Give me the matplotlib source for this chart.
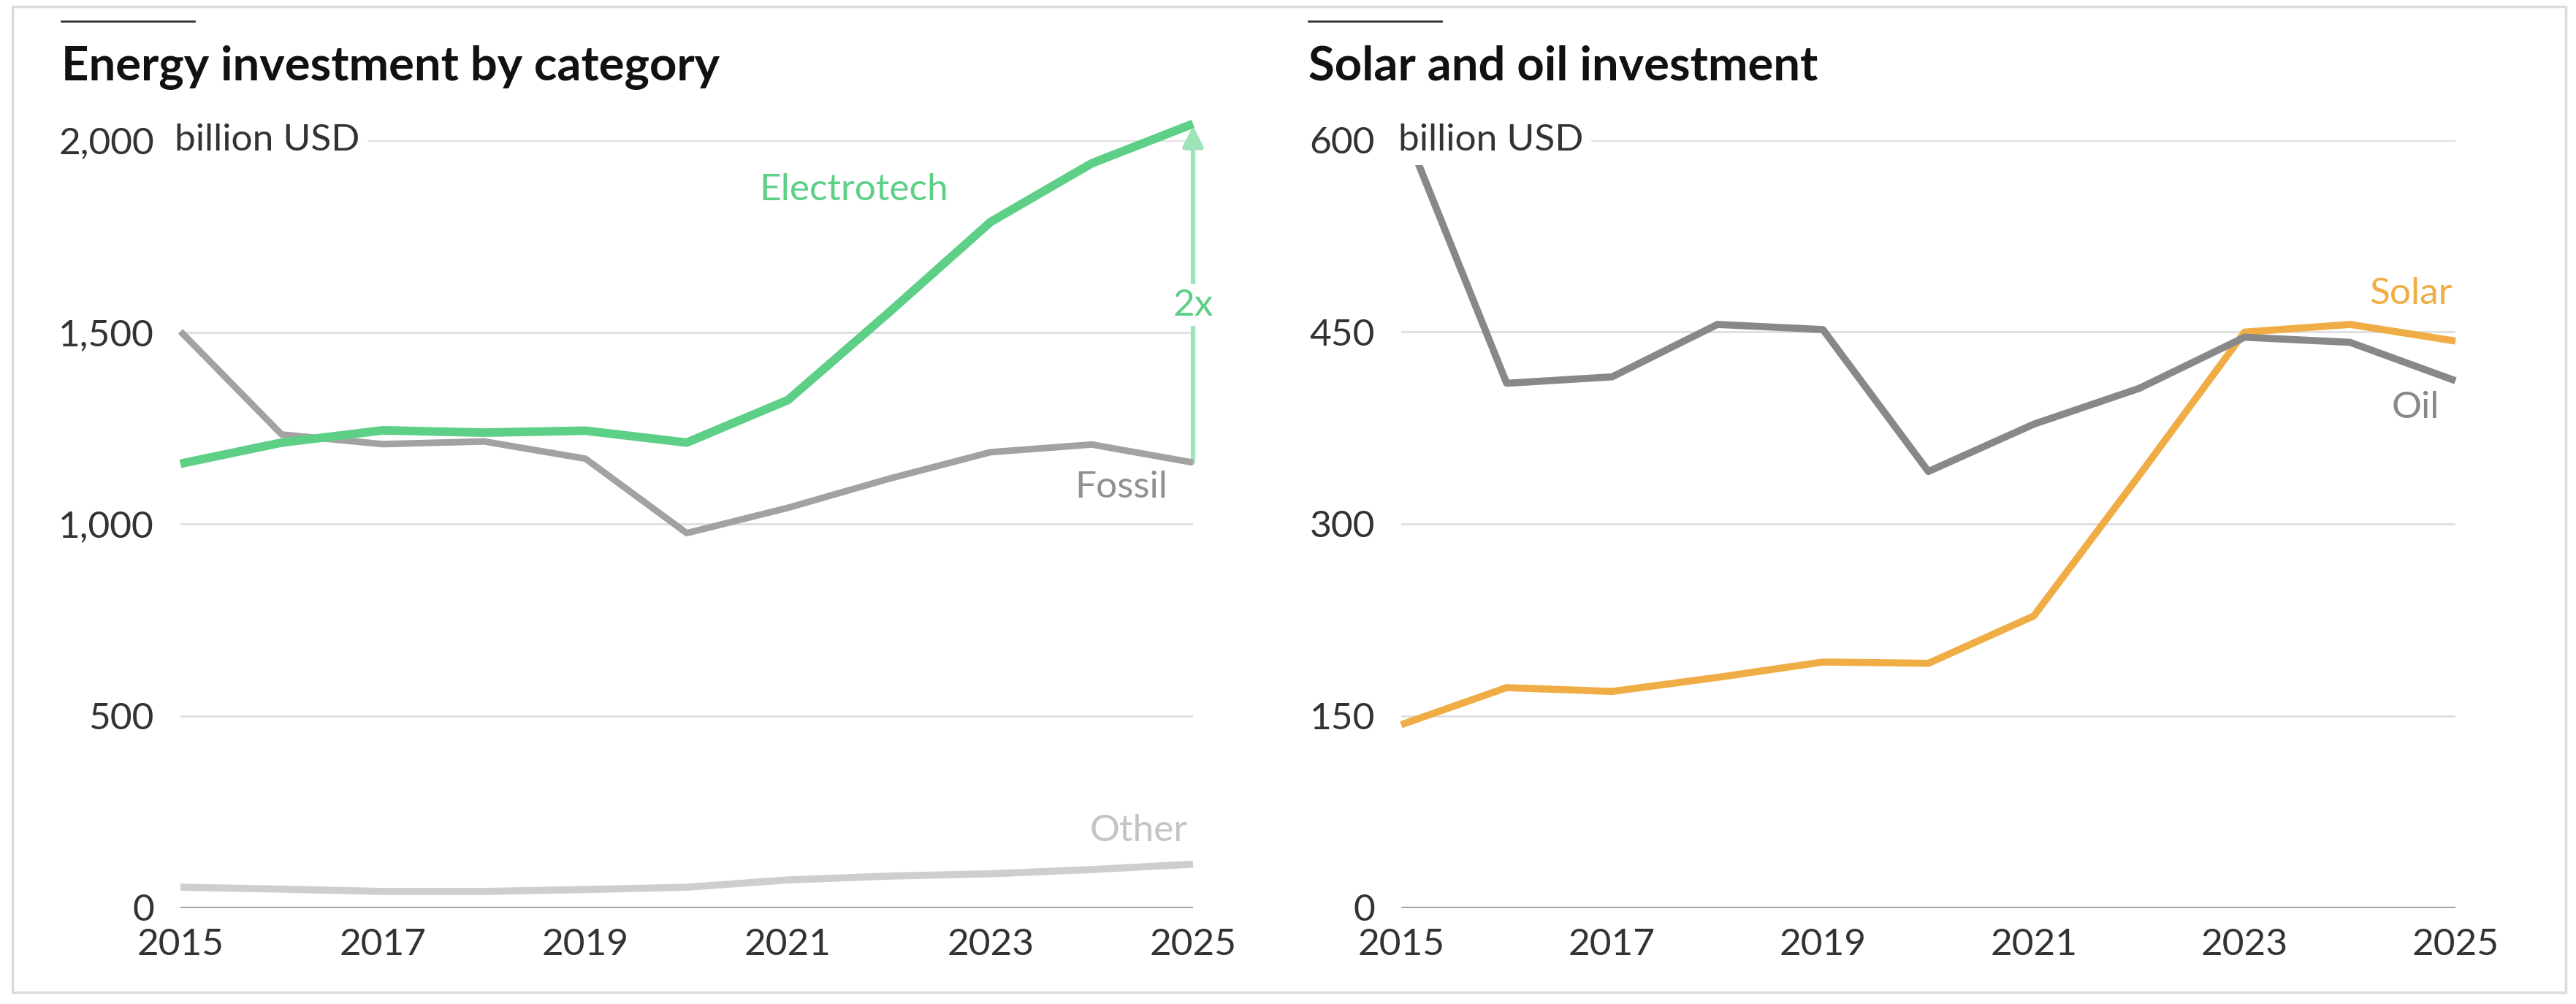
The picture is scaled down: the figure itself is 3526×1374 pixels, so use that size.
import matplotlib
matplotlib.use("Agg")
import matplotlib.pyplot as plt
from matplotlib.patches import Rectangle
from matplotlib.lines import Line2D

plt.rcParams['font.family'] = ['Lato', 'DejaVu Sans']

# data
years = [2015, 2016, 2017, 2018, 2019, 2020, 2021, 2022, 2023, 2024, 2025]
electrotech = [1157, 1212, 1244, 1238, 1243, 1212, 1323, 1552, 1787, 1940, 2043]
fossil = [1502, 1233, 1208, 1215, 1170, 976, 1042, 1118, 1187, 1207, 1160]
other = [53, 48, 42, 42, 47, 53, 72, 82, 88, 99, 113]

oil = [615, 410, 415, 456, 452, 341, 378, 406, 446, 442, 412]
solar = [143, 172, 169, 180, 192, 191, 228, 338, 450, 456, 443]

left_ticks = [0, 500, 1000, 1500, 2000]
left_ticklabels = ['0', '500', '1,000', '1,500', '2,000']
right_ticks = [0, 150, 300, 450, 600]
right_ticklabels = ['0', '150', '300', '450', '600']
xticks = [2015, 2017, 2019, 2021, 2023, 2025]

GREEN = '#5dcf86'
GREEN_LIGHT = '#9fe3b9'
FOSSIL = '#a2a2a2'
OTHER = '#cecece'
OIL = '#888888'
SOLAR = '#f0ad45'
TXT = '#333333'
FS = 37

W, H = 3526, 1374
fig = plt.figure(figsize=(W / 100, H / 100), dpi=100)

# card frame
fig.patches.append(Rectangle((17 / W, 1 - 1358 / H), (3512 - 17) / W, (1358 - 9) / H,
                             transform=fig.transFigure, fill=False,
                             edgecolor='#dcdcdc', linewidth=2.5))

ax1 = fig.add_axes([247 / W, 1 - 1242 / H, (1633 - 247) / W, (1242 - 192) / H])
ax2 = fig.add_axes([1918 / W, 1 - 1242 / H, (3361 - 1918) / W, (1242 - 192) / H])


def style(ax, ticks, labels, top):
    ax.set_xlim(2015, 2025)
    ax.set_ylim(0, top)
    for s in ax.spines.values():
        s.set_visible(False)
    ax.set_yticks(ticks)
    ax.set_yticklabels(labels)
    ax.set_xticks(xticks)
    ax.tick_params(axis='both', length=0, labelsize=FS, labelcolor=TXT)
    ax.tick_params(axis='y', pad=26)
    ax.tick_params(axis='x', pad=20)
    for t in ticks[1:]:
        ax.axhline(t, color='#dedede', linewidth=2, zorder=1)
    ax.axhline(0, color='#5a5a5a', linewidth=2.2, zorder=1)


style(ax1, left_ticks, left_ticklabels, 2000)
style(ax2, right_ticks, right_ticklabels, 600)

# left panel
ax1.plot(years, other, color=OTHER, linewidth=7, solid_capstyle='butt', zorder=3, clip_on=False)
ax1.plot(years, fossil, color=FOSSIL, linewidth=6.5, solid_capstyle='butt', zorder=3, clip_on=False)
ax1.plot(years, electrotech, color=GREEN, linewidth=8.5, solid_capstyle='butt', zorder=4, clip_on=False)

ax1.annotate('', xy=(2025, electrotech[-1] - 5), xytext=(2025, fossil[-1]),
             annotation_clip=False,
             arrowprops=dict(arrowstyle='-|>', color=GREEN_LIGHT, lw=4.5,
                             mutation_scale=42, shrinkA=0, shrinkB=0), zorder=2)
ax1.text(2025, 1570, '2x', color=GREEN, fontsize=FS, ha='center', va='center',
         bbox=dict(facecolor='white', edgecolor='none', pad=4), zorder=3)
ax1.text(2021.65, 1870, 'Electrotech', color=GREEN, fontsize=FS, ha='center', va='center')
ax1.text(2024.75, 1095, 'Fossil', color='#909090', fontsize=FS, ha='right', va='center')
ax1.text(2024.95, 200, 'Other', color='#c4c4c4', fontsize=FS, ha='right', va='center')

ax1.text(-0.006, 2000, 'billion USD', transform=ax1.get_yaxis_transform(), color=TXT,
         fontsize=FS, ha='left', va='center',
         bbox=dict(facecolor='white', edgecolor='none', pad=8), zorder=5)

# right panel
ax2.plot(years, solar, color=SOLAR, linewidth=7, solid_capstyle='butt', zorder=3, clip_on=False)
ax2.plot(years, oil, color=OIL, linewidth=7, solid_capstyle='butt', zorder=4, clip_on=False)
ax2.text(2024.97, 480, 'Solar', color=SOLAR, fontsize=FS, ha='right', va='center')
ax2.text(2024.85, 391, 'Oil', color=OIL, fontsize=FS, ha='right', va='center')
ax2.text(-0.003, 600, 'billion USD', transform=ax2.get_yaxis_transform(), color=TXT,
         fontsize=FS, ha='left', va='center',
         bbox=dict(facecolor='white', edgecolor='none', pad=8), zorder=5)

# titles and short rules above them
fig.text(84 / W, 1 - 110 / H, 'Energy investment by category', fontsize=47,
         fontweight='bold', color='#111111', ha='left', va='baseline')
fig.text(1791 / W, 1 - 110 / H, 'Solar and oil investment', fontsize=47,
         fontweight='bold', color='#111111', ha='left', va='baseline')
for x0 in (84, 1791):
    fig.lines.append(Line2D([x0 / W, (x0 + 182) / W], [1 - 29 / H, 1 - 29 / H],
                            transform=fig.transFigure, color='#333333', linewidth=2))

fig.savefig('out.png', dpi=100, facecolor='white')
